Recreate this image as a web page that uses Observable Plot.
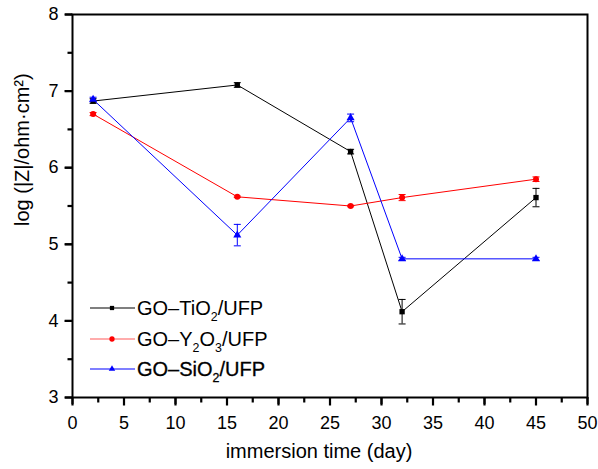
<!DOCTYPE html>
<html>
<head>
<meta charset="utf-8">
<script src="https://cdn.jsdelivr.net/npm/d3@7"></script>
<script src="https://cdn.jsdelivr.net/npm/@observablehq/plot@0.6"></script>
<style>
  html, body { margin: 0; padding: 0; background: white; }
  #chart svg { display: block; }
</style>
</head>
<body>
<div id="chart"></div>
<script>
// ---- data ----
const days = [2, 16, 27, 32, 45];
const seriesNames = ["GO–TiO_2/UFP", "GO–Y_2O_3/UFP", "GO–SiO_2/UFP"];
const seriesColors = ["#000000", "#ff0000", "#0000ff"];
const seriesSymbols = ["square", "circle", "triangle"];
const tio2 = [6.87, 7.08, 6.21, 4.12, 5.61];
const tio2Err = [0.03, 0.03, 0.03, 0.16, 0.12];
const y2o3 = [6.70, 5.62, 5.50, 5.61, 5.85];
const y2o3Err = [0.02, 0.01, 0.01, 0.04, 0.03];
const sio2 = [6.89, 5.12, 6.65, 4.81, 4.81];
const sio2Err = [0.03, 0.14, 0.05, 0.02, 0.02];
const xTicks = [0, 5, 10, 15, 20, 25, 30, 35, 40, 45, 50];
const xMinor = [2.5, 7.5, 12.5, 17.5, 22.5, 27.5, 32.5, 37.5, 42.5, 47.5];
const yTicks = [3, 4, 5, 6, 7, 8];
const yMinor = [3.5, 4.5, 5.5, 6.5, 7.5];
const xLabel = "immersion time (day)";
const yLabel = "log (|Z|/ohm·cm²)";

// ---- table ----
const values = [tio2, y2o3, sio2];
const errs = [tio2Err, y2o3Err, sio2Err];
const rows = seriesNames.flatMap((s, k) =>
  days.map((d, i) => ({series: s, x: d, y: values[k][i], e: errs[k][i]})));

const font = "'Liberation Sans', Arial, Helvetica, sans-serif";

// custom symbols: error-bar cap and axis tick marks
const capSymbol = {draw(ctx) { ctx.moveTo(-3.5, 0); ctx.lineTo(3.5, 0); }};
const downMajor = {draw(ctx) { ctx.moveTo(0, 0); ctx.lineTo(0, 8); }};
const downMinor = {draw(ctx) { ctx.moveTo(0, 0); ctx.lineTo(0, 5); }};
const leftMajor = {draw(ctx) { ctx.moveTo(0, 0); ctx.lineTo(-8, 0); }};
const leftMinor = {draw(ctx) { ctx.moveTo(0, 0); ctx.lineTo(-5, 0); }};

function richText(sel, label, fontSize) {
  const parts = label.split(/_(\d)/);
  const shift = fontSize * 0.3;
  let pending = 0;
  parts.forEach((p, j) => {
    if (p === "") return;
    if (j % 2 === 1) {
      sel.append("tspan").attr("font-size", fontSize * 0.62).attr("dy", shift + pending).text(p);
      pending = -shift;
    } else {
      const t = sel.append("tspan").text(p);
      if (pending) t.attr("dy", pending);
      pending = 0;
    }
  });
}

// legend as a function mark
function legendMark(index, scales, vals, dim) {
  const g = d3.create("svg:g").attr("font-family", font).attr("text-anchor", "start");
  const left = dim.marginLeft;
  const bottom = dim.height - dim.marginBottom;
  const rowOffsets = [-89, -58, -28];
  seriesNames.forEach((name, k) => {
    const y = bottom + rowOffsets[k];
    const color = seriesColors[k];
    const lineColor = k === 1 ? "#ff5a5a" : color;
    g.append("line").attr("x1", left + 18).attr("x2", left + 63)
      .attr("y1", y).attr("y2", y).attr("stroke", lineColor).attr("stroke-width", 1.2);
    const sym = d3.symbol(k === 0 ? d3.symbolSquare : k === 1 ? d3.symbolCircle : d3.symbolTriangle, k === 1 ? 22 : 18)();
    g.append("path").attr("d", sym).attr("transform", `translate(${left + 40},${y})`)
      .attr("fill", color);
    const t = g.append("text").attr("x", left + 65).attr("y", y).attr("dy", "0.36em")
      .attr("font-size", 20).attr("fill", "black");
    if (k === 2) t.attr("stroke", "black").attr("stroke-width", 0.3);
    richText(t, name, 20);
  });
  return g.node();
}

const tickStyle = {stroke: "black", strokeWidth: 2.2, fill: "none"};

const plot = Plot.plot({
  width: 598,
  height: 469,
  marginLeft: 72,
  marginRight: 11,
  marginTop: 14,
  marginBottom: 72,
  style: {fontFamily: font, fontSize: "18px", color: "black", background: "white"},
  x: {domain: [0, 50]},
  y: {domain: [3, 8]},
  color: {domain: seriesNames, range: seriesColors},
  symbol: {domain: seriesNames, range: seriesSymbols},
  marks: [
    Plot.axisX({ticks: xTicks, tickSize: 7, tickPadding: 12, stroke: "black", strokeWidth: 2, label: null, fontSize: 18, tickFormat: d3.format("d")}),
    Plot.axisY({ticks: yTicks, tickSize: 7, tickPadding: 7, stroke: "black", strokeWidth: 2, label: null, fontSize: 18, tickFormat: d3.format("d")}),
    Plot.line(rows, {x: "x", y: "y", z: "series", stroke: "series", strokeWidth: 1}),
    Plot.ruleX(rows, {x: "x", y1: d => d.y - d.e, y2: d => d.y + d.e, stroke: "series", strokeWidth: 1}),
    Plot.dot(rows, {x: "x", y: d => d.y + d.e, symbol: capSymbol, stroke: "series", strokeWidth: 1, fill: "none"}),
    Plot.dot(rows, {x: "x", y: d => d.y - d.e, symbol: capSymbol, stroke: "series", strokeWidth: 1, fill: "none"}),
    Plot.dot(rows, {x: "x", y: "y", symbol: "series", fill: "series", stroke: "none", r: 3}),
    Plot.frame({stroke: "black", strokeWidth: 2}),
    Plot.dot(xTicks, {x: d => d, frameAnchor: "bottom", symbol: downMajor, ...tickStyle}),
    Plot.dot(xMinor, {x: d => d, frameAnchor: "bottom", symbol: downMinor, ...tickStyle}),
    Plot.dot(yTicks, {y: d => d, frameAnchor: "left", symbol: leftMajor, ...tickStyle}),
    Plot.dot(yMinor, {y: d => d, frameAnchor: "left", symbol: leftMinor, ...tickStyle}),
    Plot.text([xLabel], {frameAnchor: "bottom", dy: 54, dx: -11, text: d => d, fontSize: 20, lineAnchor: "middle"}),
    Plot.text([yLabel], {frameAnchor: "left", dx: -50, dy: 20, rotate: -90, text: d => d, fontSize: 20, lineAnchor: "middle"}),
    legendMark
  ]
});

document.getElementById("chart").appendChild(plot);
</script>
</body>
</html>
